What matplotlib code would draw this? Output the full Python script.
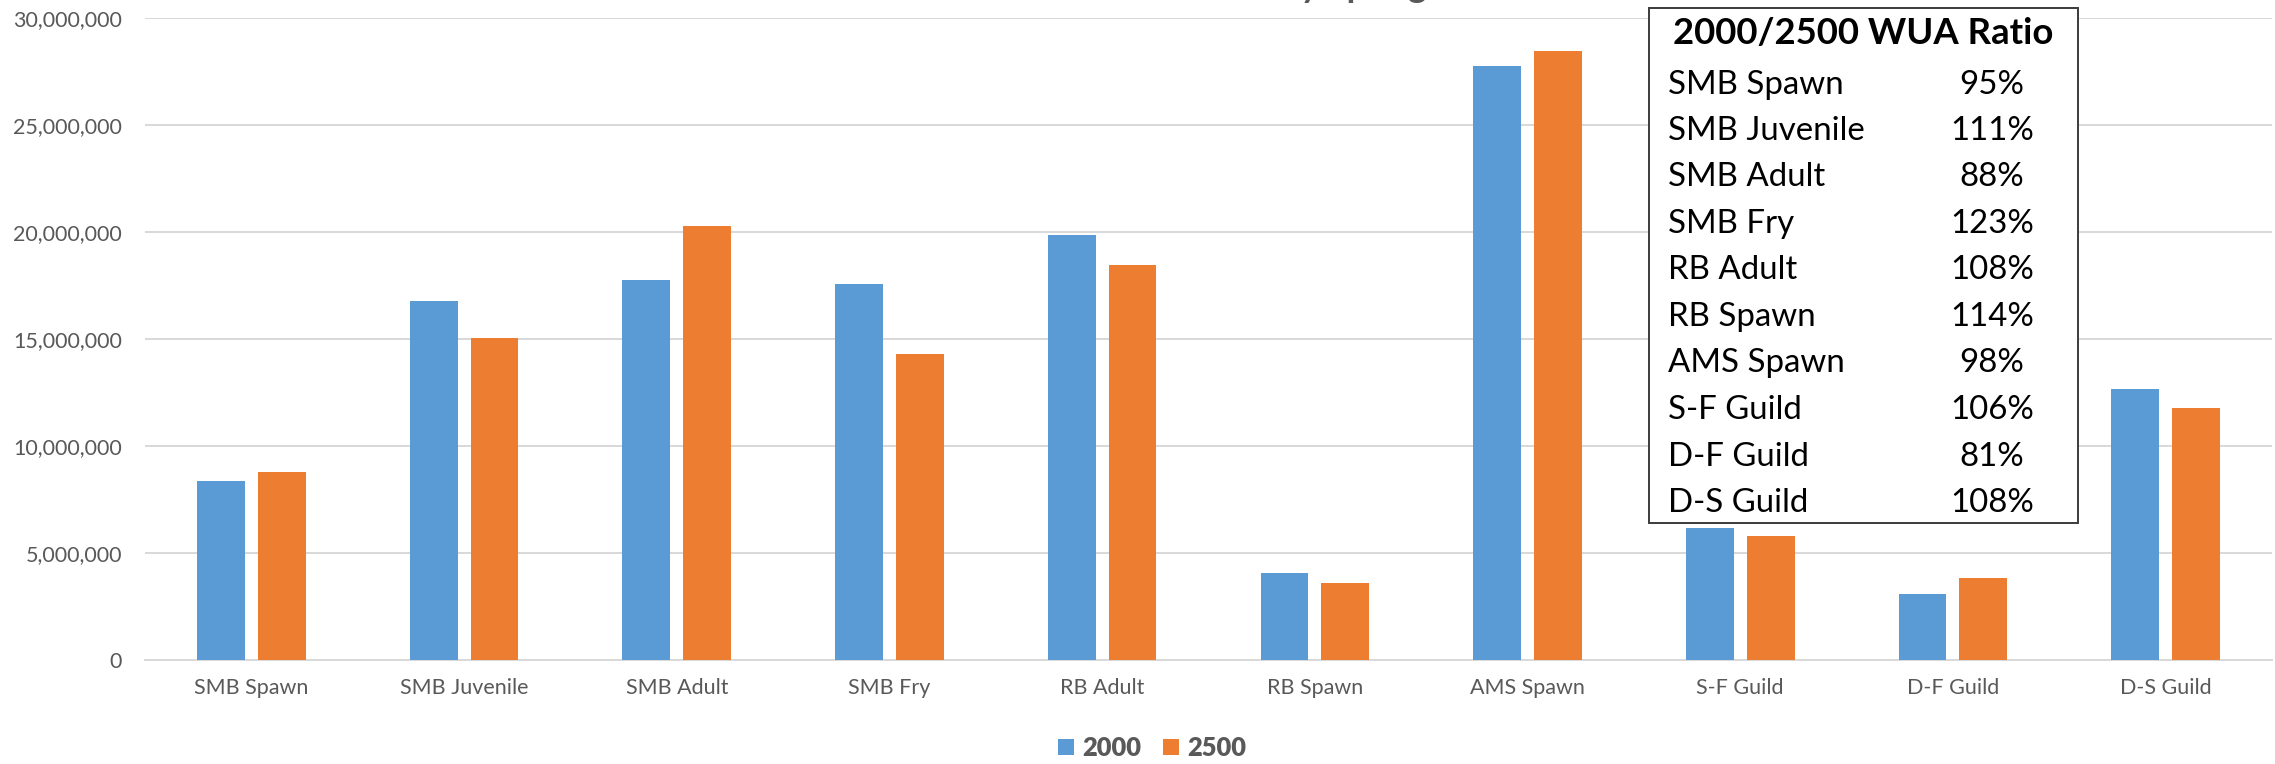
import matplotlib
matplotlib.use("Agg")
import matplotlib.pyplot as plt
from matplotlib.patches import Rectangle, Patch
from matplotlib.ticker import FuncFormatter
import numpy as np

# ---- data ----
categories = ["SMB Spawn", "SMB Juvenile", "SMB Adult", "SMB Fry", "RB Adult",
              "RB Spawn", "AMS Spawn", "S-F Guild", "D-F Guild", "D-S Guild"]
wua_2000 = [8.36e6, 16.76e6, 17.77e6, 17.57e6, 19.86e6,
            4.05e6, 27.76e6, 6.15e6, 3.08e6, 12.66e6]
wua_2500 = [8.79e6, 15.07e6, 20.27e6, 14.32e6, 18.45e6,
            3.58e6, 28.46e6, 5.81e6, 3.83e6, 11.78e6]
series_names = ["2000", "2500"]
ratio_labels = ["SMB Spawn", "SMB Juvenile", "SMB Adult", "SMB Fry", "RB Adult",
                "RB Spawn", "AMS Spawn", "S-F Guild", "D-F Guild", "D-S Guild"]
ratio_values = ["95%", "111%", "88%", "123%", "108%",
                "114%", "98%", "106%", "81%", "108%"]
table_title = "2000/2500 WUA Ratio"
chart_title = "Total WUA by Spring Flow"

# ---- style ----
W, H = 2275, 764
DPI = 100
BLUE = "#5B9BD5"
ORANGE = "#ED7D31"
GRID = "#D9D9D9"
TXT = "#595959"
FONT = ["Lato", "DejaVu Sans"]
plt.rcParams["font.family"] = FONT

def px2pt(p):
    return p * 72.0 / DPI

fig = plt.figure(figsize=(W / DPI, H / DPI), dpi=DPI)
ax_left, ax_right = 145 / W, 2272 / W
ax_top, ax_bot = 18 / H, 660 / H
ax = fig.add_axes([ax_left, 1 - ax_bot, ax_right - ax_left, ax_bot - ax_top])

x = np.arange(len(categories))
bw = 0.225
off = 0.143
ax.bar(x - off, wua_2000, width=bw, color=BLUE, zorder=3)
ax.bar(x + off, wua_2500, width=bw, color=ORANGE, zorder=3)

ax.set_xlim(-0.5, len(categories) - 0.5)
ax.set_ylim(0, 30e6)
ax.set_yticks(np.arange(0, 30e6 + 1, 5e6))
ax.yaxis.set_major_formatter(FuncFormatter(lambda v, p: f"{int(v):,}"))
ax.set_xticks(x)
ax.set_xticklabels(categories)
ax.grid(axis="y", color=GRID, linewidth=px2pt(2), zorder=0)
ax.set_axisbelow(True)
for s in ["top", "right", "left"]:
    ax.spines[s].set_visible(False)
ax.spines["bottom"].set_color(GRID)
ax.spines["bottom"].set_linewidth(px2pt(2))
ax.tick_params(axis="both", length=0, colors=TXT, labelsize=px2pt(21.5))
ax.tick_params(axis="y", pad=px2pt(23))
ax.tick_params(axis="x", pad=px2pt(18))

# ---- legend ----
handles = [Patch(facecolor=BLUE), Patch(facecolor=ORANGE)]
leg = fig.legend(handles, series_names, loc="center", ncol=2,
                 bbox_to_anchor=(1152 / W, 1 - 748 / H), frameon=False,
                 prop={"family": FONT, "weight": "heavy", "size": px2pt(25.5)},
                 handlelength=0.63, handleheight=0.63, handletextpad=0.33,
                 columnspacing=0.85)
for t in leg.get_texts():
    t.set_color(TXT)

# ---- ratio table box ----
bx0, by0, bx1, by1 = 1649, 8, 2078, 523
rect = Rectangle((bx0 / W, 1 - by1 / H), (bx1 - bx0) / W, (by1 - by0) / H,
                 transform=fig.transFigure, facecolor="white",
                 edgecolor="#404040", linewidth=px2pt(2), zorder=5)
fig.patches.append(rect)
fig.text((bx0 + bx1) / 2 / W, 1 - 44 / H, table_title, ha="center", va="baseline",
         fontsize=px2pt(36.5), fontweight="bold", color="black", zorder=6)
for i, (lab, val) in enumerate(zip(ratio_labels, ratio_values)):
    yb = 1 - (93.5 + 46.5 * i) / H
    fig.text(1668 / W, yb, lab, ha="left", va="baseline",
             fontsize=px2pt(33), color="black", zorder=6)
    fig.text(1992 / W, yb, val, ha="center", va="baseline",
             fontsize=px2pt(33), color="black", zorder=6)

# ---- clipped chart title (only descenders visible) ----
title_size = px2pt(35)
renderer = fig.canvas.get_renderer()
probe = fig.text(0, 0, chart_title[:chart_title.index("by") + 1],
                 fontsize=title_size, fontweight="bold")
wpx = probe.get_window_extent(renderer).width
probe.remove()
fig.text((1300 - wpx) / W, 1 + 3 / H, chart_title, ha="left", va="baseline",
         fontsize=title_size, fontweight="bold", color=TXT)

fig.savefig("out.png", dpi=DPI)
